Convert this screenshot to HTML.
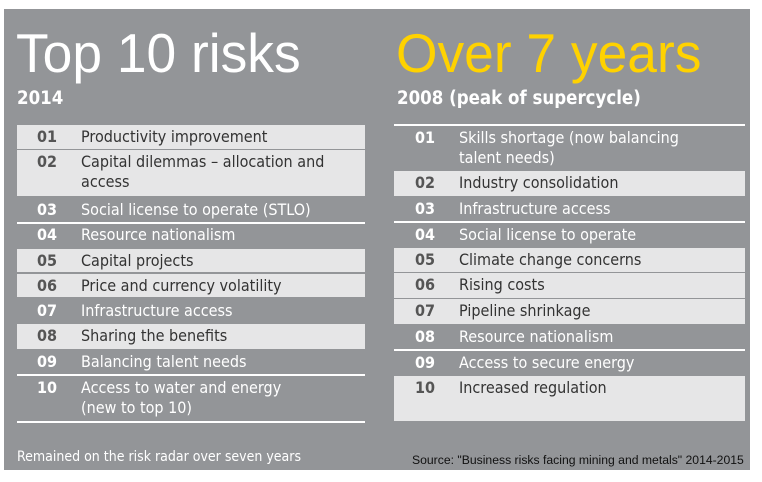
<!DOCTYPE html>
<html><head><style>
body{margin:0;width:762px;height:482px;background:#fff;position:relative;overflow:hidden;font-family:"DejaVu Sans","Liberation Sans",sans-serif}
.p{position:absolute;left:4px;top:9px;width:746px;height:461px;background:#939598}
.t{position:absolute;font-family:"Liberation Sans Narrow","Liberation Sans",sans-serif;font-size:55px;line-height:54px;transform-origin:0 0;transform:scaleX(0.97)}
.s{position:absolute;color:#fff;font-size:18.5px;font-weight:bold;font-family:"DejaVu Sans Condensed","DejaVu Sans",sans-serif}
.r{position:absolute;font-size:16px;line-height:20px;font-family:"DejaVu Sans Condensed","DejaVu Sans",sans-serif}
.r.l{background:#e6e6e7;color:#333}
.r.l b{color:#555}
.r.d{color:#fff}
.r b{position:absolute;top:2px}
.r span{position:absolute;top:2px}
.ln{position:absolute;height:1.5px;background:#fff}
</style></head><body>
<div class="p"></div>
<div class="t" style="left:16px;top:26px;color:#fff">Top 10 risks</div>
<div class="t" style="left:396px;top:26px;color:#ffd200">Over 7 years</div>
<div class="s" style="left:17px;top:88px">2014</div>
<div class="s" style="left:397px;top:88px">2008 (peak of supercycle)</div>

<div class="r l" style="left:17px;top:125px;width:348px;height:24px"><b style="left:20px">01</b><span style="left:64px">Productivity improvement</span></div>
<div class="r l" style="left:17px;top:150px;width:348px;height:46px"><b style="left:20px">02</b><span style="left:64px">Capital dilemmas – allocation and<br>access</span></div>
<div class="r d" style="left:17px;top:198px;width:348px;height:24px"><b style="left:20px">03</b><span style="left:64px">Social license to operate (STLO)</span></div>
<div class="ln" style="left:17px;top:222px;width:348px"></div>
<div class="r d" style="left:17px;top:223px;width:348px;height:24px"><b style="left:20px">04</b><span style="left:64px">Resource nationalism</span></div>
<div class="r l" style="left:17px;top:249px;width:348px;height:23px"><b style="left:20px">05</b><span style="left:64px">Capital projects</span></div>
<div class="r l" style="left:17px;top:274px;width:348px;height:23px"><b style="left:20px">06</b><span style="left:64px">Price and currency volatility</span></div>
<div class="r d" style="left:17px;top:299px;width:348px;height:24px"><b style="left:20px">07</b><span style="left:64px">Infrastructure access</span></div>
<div class="r l" style="left:17px;top:324px;width:348px;height:25px"><b style="left:20px">08</b><span style="left:64px">Sharing the benefits</span></div>
<div class="r d" style="left:17px;top:350px;width:348px;height:24px"><b style="left:20px">09</b><span style="left:64px">Balancing talent needs</span></div>
<div class="ln" style="left:17px;top:374px;width:348px"></div>
<div class="r d" style="left:17px;top:376px;width:348px;height:44px"><b style="left:20px">10</b><span style="left:64px">Access to water and energy<br>(new to top 10)</span></div>
<div class="ln" style="left:17px;top:421px;width:348px"></div>

<div class="ln" style="left:394px;top:124px;width:351px"></div>
<div class="r d" style="left:394px;top:126px;width:351px;height:45px"><b style="left:21px">01</b><span style="left:65px">Skills shortage (now balancing<br>talent needs)</span></div>
<div class="r l" style="left:394px;top:171px;width:351px;height:25px"><b style="left:21px">02</b><span style="left:65px">Industry consolidation</span></div>
<div class="r d" style="left:394px;top:197px;width:351px;height:24px"><b style="left:21px">03</b><span style="left:65px">Infrastructure access</span></div>
<div class="ln" style="left:394px;top:221px;width:351px"></div>
<div class="r d" style="left:394px;top:223px;width:351px;height:24px"><b style="left:21px">04</b><span style="left:65px">Social license to operate</span></div>
<div class="r l" style="left:394px;top:248px;width:351px;height:24px"><b style="left:21px">05</b><span style="left:65px">Climate change concerns</span></div>
<div class="r l" style="left:394px;top:273px;width:351px;height:25px"><b style="left:21px">06</b><span style="left:65px">Rising costs</span></div>
<div class="r l" style="left:394px;top:299px;width:351px;height:25px"><b style="left:21px">07</b><span style="left:65px">Pipeline shrinkage</span></div>
<div class="r d" style="left:394px;top:325px;width:351px;height:24px"><b style="left:21px">08</b><span style="left:65px">Resource nationalism</span></div>
<div class="ln" style="left:394px;top:349px;width:351px"></div>
<div class="r d" style="left:394px;top:351px;width:351px;height:24px"><b style="left:21px">09</b><span style="left:65px">Access to secure energy</span></div>
<div class="r l" style="left:394px;top:376px;width:351px;height:45px"><b style="left:21px">10</b><span style="left:65px">Increased regulation</span></div>

<div style="position:absolute;left:17px;top:449px;color:#fff;font-size:14px;font-family:'DejaVu Sans Condensed','DejaVu Sans',sans-serif">Remained on the risk radar over seven years</div>
<div style="position:absolute;left:412px;top:453px;color:#111;font-size:12.2px;font-family:'Liberation Sans',sans-serif">Source: "Business risks facing mining and metals" 2014-2015</div>
</body></html>
